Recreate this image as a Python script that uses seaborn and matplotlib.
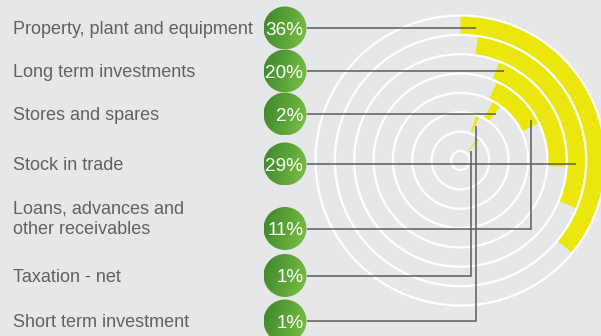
import numpy as np
import matplotlib
matplotlib.use("Agg")
import matplotlib.pyplot as plt
from matplotlib.patches import Wedge, Circle
from matplotlib.colors import LinearSegmentedColormap
import seaborn as sns

# ---- data -------------------------------------------------------------
categories = [
    "Property, plant and equipment",
    "Long term investments",
    "Stores and spares",
    "Stock in trade",
    "Loans, advances and\nother receivables",
    "Taxation - net",
    "Short term investment",
]
shares = [36, 20, 2, 29, 11, 1, 1]
share_labels = ["36%", "20%", "2%", "29%", "11%", "1%", "1%"]

# ---- layout / styling -------------------------------------------------
track_of = [0, 2, 4, 1, 3, 6, 5]              # 0 = outermost track
start_deg = [0, 21.5, 29, 8, 25, 38, 19.5]    # clockwise from 12 o'clock
row_y = [28, 71, 114, 164, 228.5, 275.5, 321]
# connector hooks: ("h", depth in track) or ("v", angle, depth in track)
hooks = [("h", 0.40), ("h", 0.65), ("h", 0.52), ("h", 0.50),
         ("v", 60, 0.71), ("v", 47, 0.23), ("v", 24, 0.46)]

W, H = 601, 336
BG = "#e6e7e8"
YELLOW = "#ebe70c"
LINE = "#5b5c5e"
TEXT = "#606163"
CX, CY = 460.5, 160.5
R0, STEP, N_RINGS = 9.5, 19.36, 8
R_OUT = R0 + STEP * (N_RINGS - 1)
BADGE_X, BADGE_R = 285.0, 21.5

sns.set_theme(style="white", rc={"axes.facecolor": BG, "figure.facecolor": BG})
plt.rcParams["font.family"] = ["Liberation Sans", "DejaVu Sans"]

fig = plt.figure(figsize=(W / 100, H / 100), dpi=100)
ax = fig.add_axes([0, 0, 1, 1])
ax.set_facecolor(BG)

# yellow arcs, one track per category
for val, trk, st in zip(shares, track_of, start_deg):
    outer = R_OUT - STEP * trk
    end = st + val * 3.6
    ax.add_patch(Wedge((CX, CY), outer, st - 90, end - 90, width=STEP,
                       facecolor=YELLOW, edgecolor="none", zorder=1))

# white concentric guide circles
for k in range(N_RINGS):
    ax.add_patch(Circle((CX, CY), R0 + STEP * k, fill=False,
                        edgecolor="white", linewidth=1.6, zorder=2))

# connectors from badges to arcs
x0 = BADGE_X + BADGE_R
for y, trk, hk in zip(row_y, track_of, hooks):
    inner = R_OUT - STEP * (trk + 1)
    if hk[0] == "h":
        r = inner + hk[1] * STEP
        xe = CX + np.sqrt(max(r ** 2 - (y - CY) ** 2, 0))
        xs, ys = [x0, xe], [y, y]
    else:
        a = np.deg2rad(hk[1])
        r = inner + hk[2] * STEP
        xe, ye = CX + r * np.sin(a), CY - r * np.cos(a)
        xs, ys = [x0, xe, xe], [y, y, ye]
    ax.plot(xs, ys, color=LINE, linewidth=1.1, solid_capstyle="butt",
            solid_joinstyle="miter", zorder=3)

# green gradient badges with percentages
green = LinearSegmentedColormap.from_list("badge", ["#3b862b", "#7cc144"])
gx, gy = np.meshgrid(np.linspace(0, 1, 64), np.linspace(0, 1, 64))
grad = 0.8 * gx + 0.2 * gy
for y, lab in zip(row_y, share_labels):
    circ = Circle((BADGE_X, y), BADGE_R, facecolor="none", edgecolor="none",
                  zorder=4)
    ax.add_patch(circ)
    im = ax.imshow(grad, cmap=green, extent=(BADGE_X - BADGE_R, BADGE_X + BADGE_R,
                                             y + BADGE_R, y - BADGE_R),
                   interpolation="bilinear", zorder=4)
    im.set_clip_path(circ)
    ax.text(BADGE_X + 18.3, y + 6.8, lab, ha="right", va="baseline",
            fontsize=13.6, color="white", zorder=5)

# category labels
for y, cat in zip(row_y, categories):
    lines = cat.split("\n")
    n = len(lines)
    for i, ln in enumerate(lines):
        ax.text(13, y + 6 - (n - 1 - i) * 21.5, ln, ha="left", va="baseline",
                fontsize=13.0, color=TEXT)

ax.set_xlim(0, W)
ax.set_ylim(H, 0)
ax.set_aspect("auto")
ax.axis("off")

fig.savefig("out.png", dpi=100, facecolor=BG)
